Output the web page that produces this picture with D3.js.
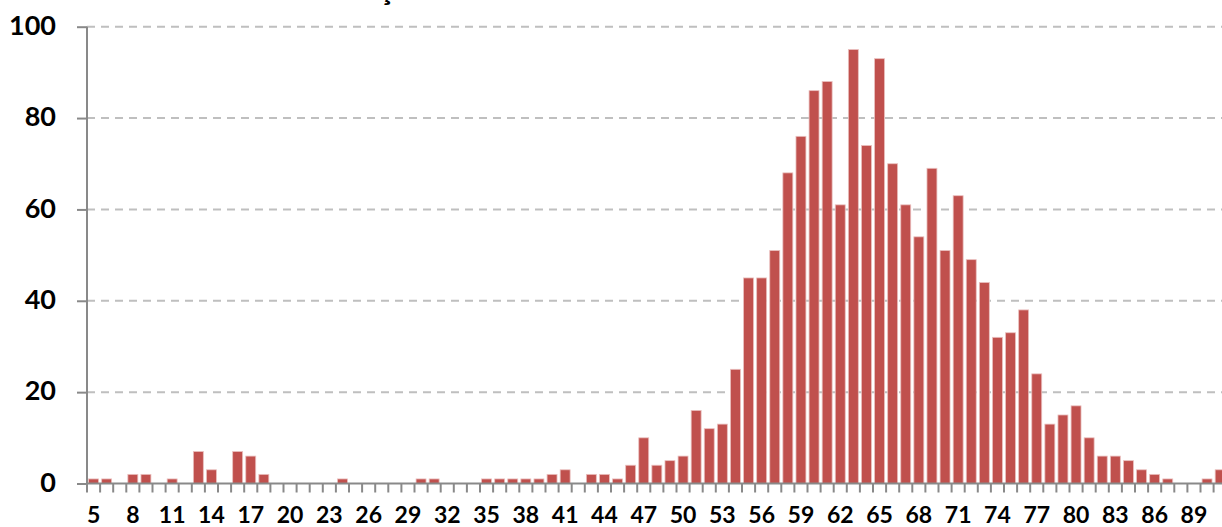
<!DOCTYPE html>
<html>
<head>
<meta charset="utf-8">
<script src="https://cdn.jsdelivr.net/npm/d3@7"></script>
<style>
  html, body { margin: 0; padding: 0; background: #fff; overflow: hidden; }
  svg { display: block; }
  text { font-family: Lato, "Open Sans", sans-serif; font-weight: bold; fill: #000; }
</style>
</head>
<body>
<svg id="chart" width="1222" height="527"></svg>
<script>
// 类别（年龄）
var ages = [5, 6, 7, 8, 9, 10, 11, 12, 13, 14,
  15, 16, 17, 18, 19, 20, 21, 22, 23, 24,
  25, 26, 27, 28, 29, 30, 31, 32, 33, 34,
  35, 36, 37, 38, 39, 40, 41, 42, 43, 44,
  45, 46, 47, 48, 49, 50, 51, 52, 53, 54,
  55, 56, 57, 58, 59, 60, 61, 62, 63, 64,
  65, 66, 67, 68, 69, 70, 71, 72, 73, 74,
  75, 76, 77, 78, 79, 80, 81, 82, 83, 84,
  85, 86, 87, 88, 89, 90, 91]

// 每个类别的数量
var counts = [1, 1, 0, 2, 2, 0, 1, 0, 7, 3,
  0, 7, 6, 2, 0, 0, 0, 0, 0, 1,
  0, 0, 0, 0, 0, 1, 1, 0, 0, 0,
  1, 1, 1, 1, 1, 2, 3, 0, 2, 2,
  1, 4, 10, 4, 5, 6, 16, 12, 13, 25,
  45, 45, 51, 68, 76, 86, 88, 61, 95, 74,
  93, 70, 61, 54, 69, 51, 63, 49, 44, 32,
  33, 38, 24, 13, 15, 17, 10, 6, 6, 5,
  3, 2, 1, 0, 0, 1, 3]

// x轴标签（每隔3个）
var xTickLabels = [5, 8, 11, 14, 17, 20, 23, 26, 29, 32, 35, 38, 41, 44, 47,
  50, 53, 56, 59, 62, 65, 68, 71, 74, 77, 80, 83, 86, 89]

// y轴刻度
var yTicks = [0, 20, 40, 60, 80, 100]

var titleText = 'Distribuição de idades'

var data = ages.map((a, i) => ({ age: a, n: counts[i] }))

var svg = d3.select('#chart')

var left = 87
var step = 13.1
var x = d3
  .scaleBand()
  .domain(ages)
  .range([left, left + ages.length * step])
  .paddingInner(0.24)
  .paddingOuter(0.12)

var y = d3.scaleLinear().domain([0, 100]).range([483.5, 26.7])

// 网格线
svg
  .append('g')
  .selectAll('line')
  .data(yTicks.filter((d) => d > 0))
  .join('line')
  .attr('x1', left)
  .attr('x2', 1222)
  .attr('y1', (d) => y(d))
  .attr('y2', (d) => y(d))
  .attr('stroke', '#bfbfbf')
  .attr('stroke-width', 2)
  .attr('stroke-dasharray', '8,6')

// 柱子
svg
  .append('g')
  .selectAll('rect')
  .data(data.filter((d) => d.n > 0))
  .join('rect')
  .attr('x', (d) => x(d.age))
  .attr('y', (d) => y(d.n))
  .attr('width', x.bandwidth())
  .attr('height', (d) => y(0) - y(d.n))
  .attr('fill', '#c0504d')
  .attr('stroke', '#eac0bf')
  .attr('stroke-width', 0.8)

// x轴：每个类别边界一个刻度
var xAxis = d3
  .axisBottom(x)
  .tickSize(0)
  .tickFormat((d) => (xTickLabels.includes(d) ? d : ''))

var gx = svg
  .append('g')
  .attr('transform', `translate(0,${y(0)})`)
  .call(xAxis)
gx.select('.domain').remove()
gx.selectAll('text')
  .attr('y', 39)
  .attr('dy', 0)
  .style('font-size', '23px')
  .style('font-family', 'Lato, "Open Sans", sans-serif')
  .style('font-weight', 'bold')
  .attr('fill', '#000')

var bounds = d3.range(ages.length + 1).map((i) => x.range()[0] + i * x.step())
gx.append('g')
  .selectAll('line')
  .data(bounds)
  .join('line')
  .attr('x1', (d) => d)
  .attr('x2', (d) => d)
  .attr('y1', 0)
  .attr('y2', 9)
  .attr('stroke', '#898989')
  .attr('stroke-width', 2)
gx.append('line')
  .attr('x1', left)
  .attr('x2', 1222)
  .attr('stroke', '#898989')
  .attr('stroke-width', 2)

// y轴
var yAxis = d3.axisLeft(y).tickValues(yTicks).tickSize(10).tickPadding(21)
var gy = svg.append('g').attr('transform', `translate(${left},0)`).call(yAxis)
gy.select('.domain').attr('stroke', '#898989').attr('stroke-width', 2).attr('d', `M0,${y(100)}V${y(0)}`)
gy.selectAll('.tick line').attr('stroke', '#898989').attr('stroke-width', 2)
gy.selectAll('text')
  .attr('dy', '0.32em')
  .attr('y', -1)
  .style('font-size', '27px')
  .style('font-family', 'Lato, "Open Sans", sans-serif')
  .style('font-weight', 'bold')
  .attr('fill', '#000')

// 标题（只露出下端）
var title = svg
  .append('text')
  .attr('x', 0)
  .attr('y', 0)
  .style('font-size', '30px')
  .text(titleText)
var ci = titleText.indexOf('ç')
var cx = title.node().getStartPositionOfChar(ci).x + title.node().getExtentOfChar(ci).width / 2
title.attr('x', 386 - cx)
</script>
</body>
</html>
